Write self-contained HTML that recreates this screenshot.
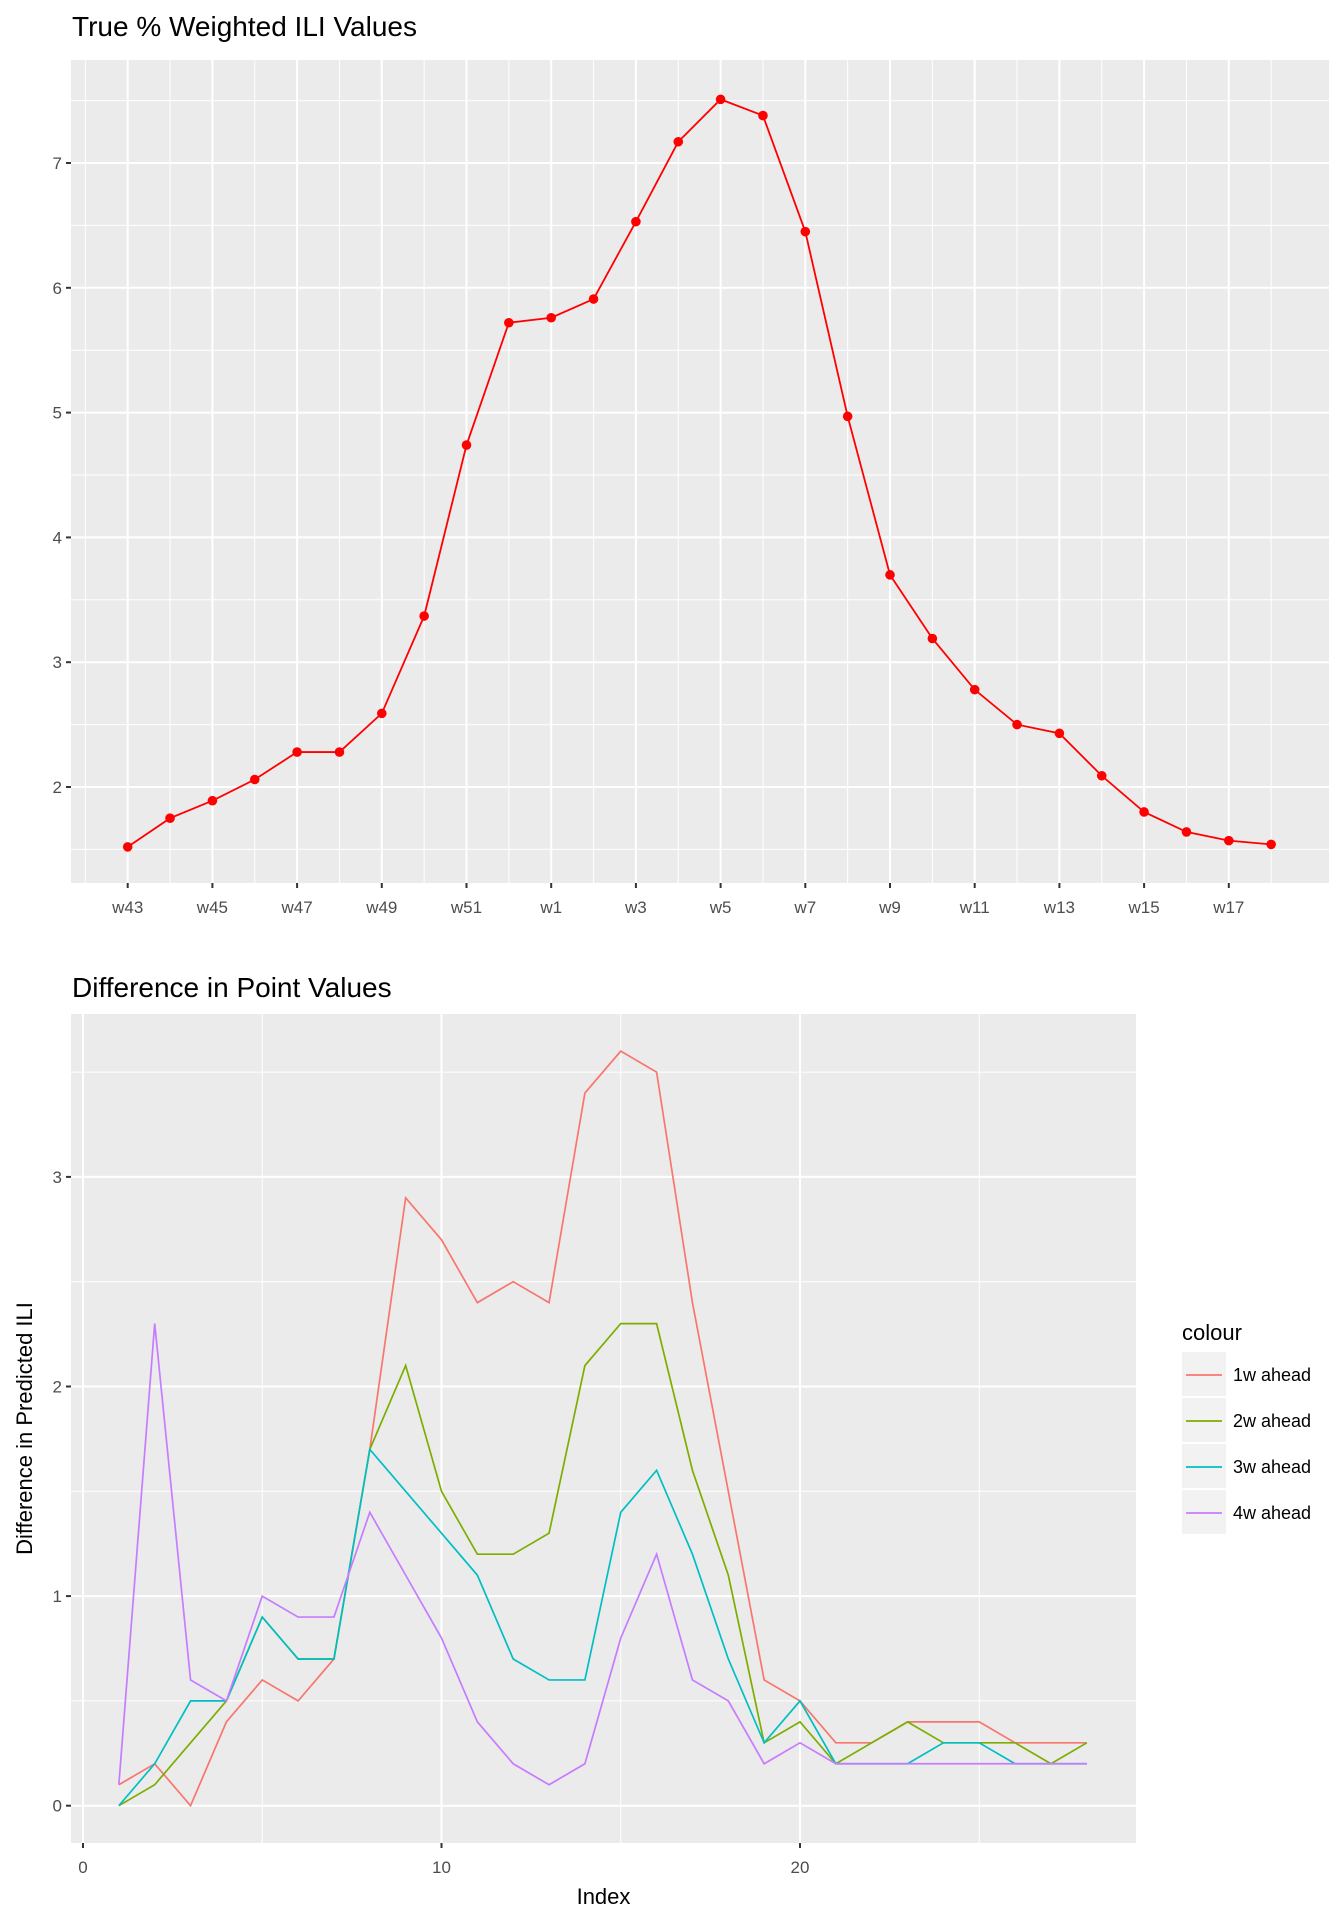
<!DOCTYPE html>
<html><head><meta charset="utf-8"><style>
html,body{margin:0;padding:0;background:#fff;width:1344px;height:1920px;overflow:hidden}
svg{display:block;font-family:"Liberation Sans",Arial,sans-serif}
</style></head><body>
<svg id="chart" width="1344" height="1920" xmlns="http://www.w3.org/2000/svg"></svg>
<script>
const weekLabels = ["w43","w45","w47","w49","w51","w1","w3","w5","w7","w9","w11","w13","w15","w17"];
const iliValues = [1.52,1.75,1.89,2.06,2.28,2.28,2.59,3.37,4.74,5.72,5.76,5.91,6.53,7.17,7.51,7.38,6.45,4.97,3.70,3.19,2.78,2.50,2.43,2.09,1.80,1.64,1.57,1.54];
const topYTicks = [2,3,4,5,6,7];
const seriesNames = ["1w ahead","2w ahead","3w ahead","4w ahead"];
const seriesColors = ["#F8766D","#7CAE00","#00BFC4","#C77CFF"];
const s1w = [0.1,0.2,0,0.4,0.6,0.5,0.7,1.7,2.9,2.7,2.4,2.5,2.4,3.4,3.6,3.5,2.4,1.5,0.6,0.5,0.3,0.3,0.4,0.4,0.4,0.3,0.3,0.3];
const s2w = [0,0.1,0.3,0.5,0.9,0.7,0.7,1.7,2.1,1.5,1.2,1.2,1.3,2.1,2.3,2.3,1.6,1.1,0.3,0.4,0.2,0.3,0.4,0.3,0.3,0.3,0.2,0.3];
const s3w = [0,0.2,0.5,0.5,0.9,0.7,0.7,1.7,1.5,1.3,1.1,0.7,0.6,0.6,1.4,1.6,1.2,0.7,0.3,0.5,0.2,0.2,0.2,0.3,0.3,0.2,0.2,0.2];
const s4w = [0.1,2.3,0.6,0.5,1.0,0.9,0.9,1.4,1.1,0.8,0.4,0.2,0.1,0.2,0.8,1.2,0.6,0.5,0.2,0.3,0.2,0.2,0.2,0.2,0.2,0.2,0.2,0.2];
const botXTicks = [0,10,20];
const botYTicks = [0,1,2,3];

const NS="http://www.w3.org/2000/svg";
const svg=document.getElementById('chart');
function el(tag,attrs,parent){const e=document.createElementNS(NS,tag);for(const k in attrs)e.setAttribute(k,attrs[k]);(parent||svg).appendChild(e);return e;}

// ---------- Top chart ----------
const tL=71,tR=1329,tT=60,tB=883;
const tx=i=>127.7+i*42.35;
const ty=v=>163+(7-v)*124.8;
const g1=el('g',{});


const t1=el('text',{x:72,y:36,'font-size':28,fill:'#000'},g1);t1.textContent="True % Weighted ILI Values";


const p1=el('rect',{x:tL,y:tT,width:tR-tL,height:tB-tT,fill:'#EBEBEB'},g1);


for(let v=1.5;v<=7.5;v+=1){const y=ty(v);if(y>tT&&y<tB)el('line',{x1:tL,x2:tR,y1:y,y2:y,stroke:'#fff','stroke-width':1},g1);}
for(let i=-1;i<=28;i+=2){const x=tx(i);if(x>tL&&x<tR)el('line',{x1:x,x2:x,y1:tT,y2:tB,stroke:'#fff','stroke-width':1},g1);}
topYTicks.forEach(v=>{const y=ty(v);el('line',{x1:tL,x2:tR,y1:y,y2:y,stroke:'#fff','stroke-width':2},g1);
 el('line',{x1:tL-5,x2:tL,y1:y,y2:y,stroke:'#333','stroke-width':2},g1);
 const t=el('text',{x:tL-9,y:y+6,'font-size':17,fill:'#4D4D4D','text-anchor':'end'},g1);t.textContent=v;
 
 });
weekLabels.forEach((lab,k)=>{const x=tx(k*2);el('line',{x1:x,x2:x,y1:tT,y2:tB,stroke:'#fff','stroke-width':2},g1);
 el('line',{x1:x,x2:x,y1:tB,y2:tB+5,stroke:'#333','stroke-width':2},g1);
 const t=el('text',{x:x,y:913,'font-size':17,fill:'#4D4D4D','text-anchor':'middle'},g1);t.textContent=lab;
 
 });
const ln=el('polyline',{points:iliValues.map((v,i)=>tx(i)+','+ty(v)).join(' '),fill:'none',stroke:'#FF0000','stroke-width':1.8},g1);


iliValues.forEach((v,i)=>{const c=el('circle',{cx:tx(i),cy:ty(v),r:4.8,fill:'#FF0000'},g1);
 
 });

// ---------- Bottom chart ----------
const bL=71,bR=1136,bT=1014,bB=1843;
const bx=i=>83+i*35.85;
const by=v=>1805.7-v*209.6;
const g2=el('g',{});


const t2=el('text',{x:72,y:997,'font-size':28,fill:'#000'},g2);t2.textContent="Difference in Point Values";


const p2=el('rect',{x:bL,y:bT,width:bR-bL,height:bB-bT,fill:'#EBEBEB'},g2);


[0.5,1.5,2.5,3.5].forEach(v=>{const y=by(v);el('line',{x1:bL,x2:bR,y1:y,y2:y,stroke:'#fff','stroke-width':1},g2);});
[5,15,25].forEach(v=>{const x=bx(v);el('line',{x1:x,x2:x,y1:bT,y2:bB,stroke:'#fff','stroke-width':1},g2);});
botYTicks.forEach(v=>{const y=by(v);el('line',{x1:bL,x2:bR,y1:y,y2:y,stroke:'#fff','stroke-width':2},g2);
 el('line',{x1:bL-5,x2:bL,y1:y,y2:y,stroke:'#333','stroke-width':2},g2);
 const t=el('text',{x:bL-9,y:y+6,'font-size':17,fill:'#4D4D4D','text-anchor':'end'},g2);t.textContent=v;
 
 });
botXTicks.forEach(v=>{const x=bx(v);el('line',{x1:x,x2:x,y1:bT,y2:bB,stroke:'#fff','stroke-width':2},g2);
 el('line',{x1:x,x2:x,y1:bB,y2:bB+5,stroke:'#333','stroke-width':2},g2);
 const t=el('text',{x:x,y:1873,'font-size':17,fill:'#4D4D4D','text-anchor':'middle'},g2);t.textContent=v;
 
 });
const xl=el('text',{x:(bL+bR)/2,y:1904,'font-size':22,fill:'#000','text-anchor':'middle'},g2);xl.textContent="Index";


const yl=el('text',{x:0,y:0,'font-size':22,fill:'#000','text-anchor':'middle',transform:'translate(32,'+((bT+bB)/2)+') rotate(-90)'},g2);yl.textContent="Difference in Predicted ILI";


const allSeries=[s1w,s2w,s3w,s4w];
allSeries.forEach((s,k)=>{const p=el('polyline',{points:s.map((v,i)=>bx(i+1)+','+by(v)).join(' '),fill:'none',stroke:seriesColors[k],'stroke-width':1.7},g2);
 
 });
const lg=el('g',{},g2);


const lt=el('text',{x:1182,y:1340,'font-size':22,fill:'#000'},lg);lt.textContent="colour";


seriesNames.forEach((n,k)=>{const y0=1352+k*46;
 const e=el('g',{},lg);
 
 
 el('rect',{x:1182,y:y0,width:44,height:44,fill:'#F2F2F2'},e);
 el('line',{x1:1186,x2:1222,y1:y0+23,y2:y0+23,stroke:seriesColors[k],'stroke-width':1.8},e);
 const t=el('text',{x:1233,y:y0+29,'font-size':18,fill:'#000'},e);t.textContent=n;});
</script>
</body></html>
